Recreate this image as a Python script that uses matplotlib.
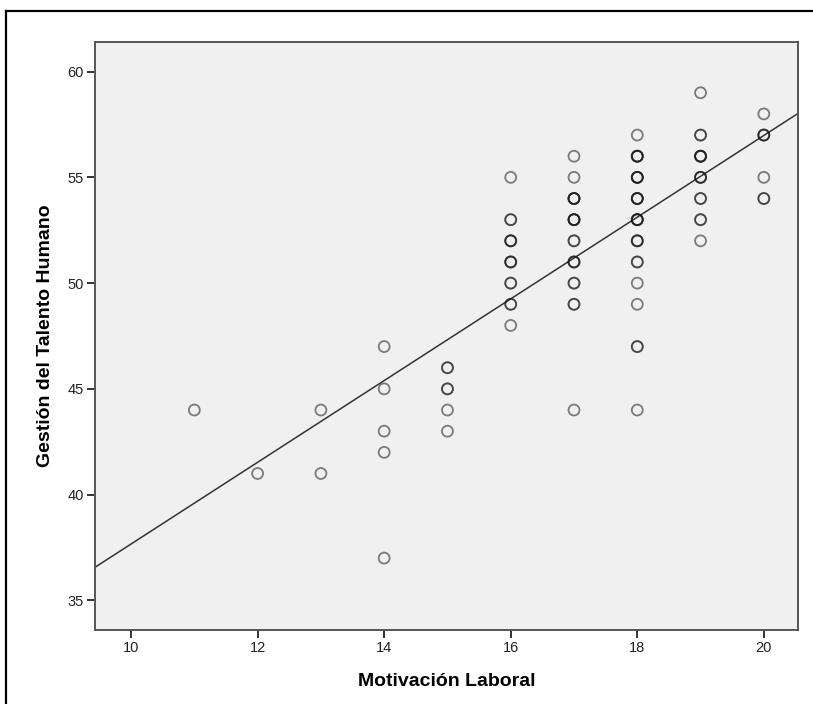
import numpy as np
import matplotlib.pyplot as plt
from matplotlib.lines import Line2D

plt.rcParams['font.family'] = ['Liberation Sans', 'DejaVu Sans']

# Motivación Laboral (x), Gestión del Talento Humano (y), number of cases at that point
motivacion = [11, 12, 13, 13,
              14, 14, 14, 14, 14,
              15, 15, 15, 15,
              16, 16, 16, 16, 16, 16, 16,
              17, 17, 17, 17, 17, 17, 17, 17, 17,
              18, 18, 18, 18, 18, 18, 18, 18, 18, 18, 18,
              19, 19, 19, 19, 19, 19, 19,
              20, 20, 20, 20]
gestion = [44, 41, 44, 41,
           47, 45, 43, 42, 37,
           46, 45, 44, 43,
           55, 53, 52, 51, 50, 49, 48,
           56, 55, 54, 53, 52, 51, 50, 49, 44,
           57, 56, 55, 54, 53, 52, 51, 50, 49, 47, 44,
           59, 57, 56, 55, 54, 53, 52,
           58, 57, 55, 54]
casos = [1, 1, 1, 1,
         1, 1, 1, 1, 1,
         2, 2, 1, 1,
         1, 2, 3, 3, 2, 2, 1,
         1, 1, 4, 4, 2, 3, 2, 2, 1,
         1, 4, 4, 4, 4, 3, 2, 1, 1, 2, 1,
         1, 2, 4, 3, 2, 2, 1,
         1, 3, 1, 2]

x = np.repeat(motivacion, casos)
y = np.repeat(gestion, casos)

fig = plt.figure(figsize=(8.13, 7.04), dpi=100)
ax = fig.add_axes([95 / 813, 1 - 630 / 704, 703 / 813, 588 / 704])
ax.set_facecolor('#f0f0f0')

ax.scatter(x, y, s=62, facecolors='none', edgecolors=(0.1, 0.1, 0.1, 0.55),
           linewidths=1.3, zorder=3)

# linear fit line across the full axis
b1, b0 = np.polyfit(x, y, 1)
xl = np.array([9.43, 20.54])
ax.plot(xl, b0 + b1 * xl, color='#333333', linewidth=1.1, zorder=2)

ax.set_xlim(9.43, 20.54)
ax.set_ylim(33.6, 61.4)
ax.set_xticks([10, 12, 14, 16, 18, 20])
ax.set_yticks([35, 40, 45, 50, 55, 60])

for s in ax.spines.values():
    s.set_color('#555555')
    s.set_linewidth(1.4)
ax.tick_params(direction='out', length=6, width=1.4, color='#333333',
               labelsize=10.5, labelcolor='#222222', pad=2)

ax.set_xlabel('Motivación Laboral', fontsize=14, fontweight='bold', labelpad=13)
ax.set_ylabel('Gestión del Talento Humano', fontsize=14, fontweight='bold', labelpad=10)

# outer frame (left and top sides visible)
fig.add_artist(Line2D([6 / 813, 6 / 813], [0, 1 - 11 / 704], transform=fig.transFigure,
                      color='black', linewidth=1.6))
fig.add_artist(Line2D([6 / 813, 1], [1 - 11 / 704, 1 - 11 / 704], transform=fig.transFigure,
                      color='black', linewidth=1.6))

fig.savefig('out.png', dpi=100)
